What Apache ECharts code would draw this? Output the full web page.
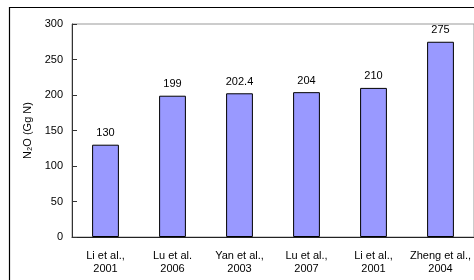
<!DOCTYPE html>
<html>
<head>
<meta charset="utf-8">
<script src="https://cdn.jsdelivr.net/npm/echarts@6/dist/echarts.min.js"></script>
<style>
  html, body { margin: 0; padding: 0; background: #fff; }
  #chart { width: 474px; height: 280px; }
</style>
</head>
<body>
<div id="chart"></div>
<script>
// studies and their N2O estimates
var studies = ["Li et al.,\n2001", "Lu et al.\n2006", "Yan et al.,\n2003", "Lu et al.,\n2007", "Li et al.,\n2001", "Zheng et al.,\n2004"];
var n2oValues = [130, 199, 202.4, 204, 210, 275];
var yTicks = [0, 50, 100, 150, 200, 250, 300];

var font = "Liberation Sans, Arial, sans-serif";

var chart = echarts.init(document.getElementById('chart'));
chart.setOption({
    animation: false,
    graphic: [{
        type: 'rect',
        shape: { x: 9.5, y: 7.5, width: 520, height: 320 },
        style: { fill: 'none', stroke: '#000', lineWidth: 1.2 },
        silent: true
    }],
    grid: {
        left: 72, top: 24, right: -4, bottom: 43,
        show: true,
        borderColor: '#999',
        borderWidth: 1
    },
    xAxis: {
        type: 'category',
        data: studies,
        axisLine: { lineStyle: { color: '#222', width: 1 } },
        axisTick: { inside: true, length: 4, lineStyle: { color: '#222' } },
        axisLabel: {
            interval: 0, margin: 12, color: '#000',
            fontFamily: font, fontSize: 11, lineHeight: 13
        }
    },
    yAxis: {
        type: 'value',
        min: yTicks[0], max: yTicks[yTicks.length - 1], interval: 50,
        name: 'N\u2082O (Gg N)',
        nameLocation: 'middle',
        nameRotate: 90,
        nameGap: 37,
        nameTextStyle: { fontFamily: font, fontSize: 11, color: '#000' },
        axisLine: { show: true, lineStyle: { color: '#333', width: 1 } },
        axisTick: { show: true, inside: true, length: 5, lineStyle: { color: '#333' } },
        splitLine: { show: false },
        axisLabel: { margin: 9, color: '#000', fontFamily: font, fontSize: 11 }
    },
    series: [{
        type: 'bar',
        data: n2oValues,
        barWidth: '40%',
        itemStyle: { color: '#9999FF', borderColor: '#000', borderWidth: 1 },
        label: {
            show: true, position: 'top', distance: 6,
            color: '#000', fontFamily: font, fontSize: 11
        }
    }]
});
</script>
</body>
</html>
